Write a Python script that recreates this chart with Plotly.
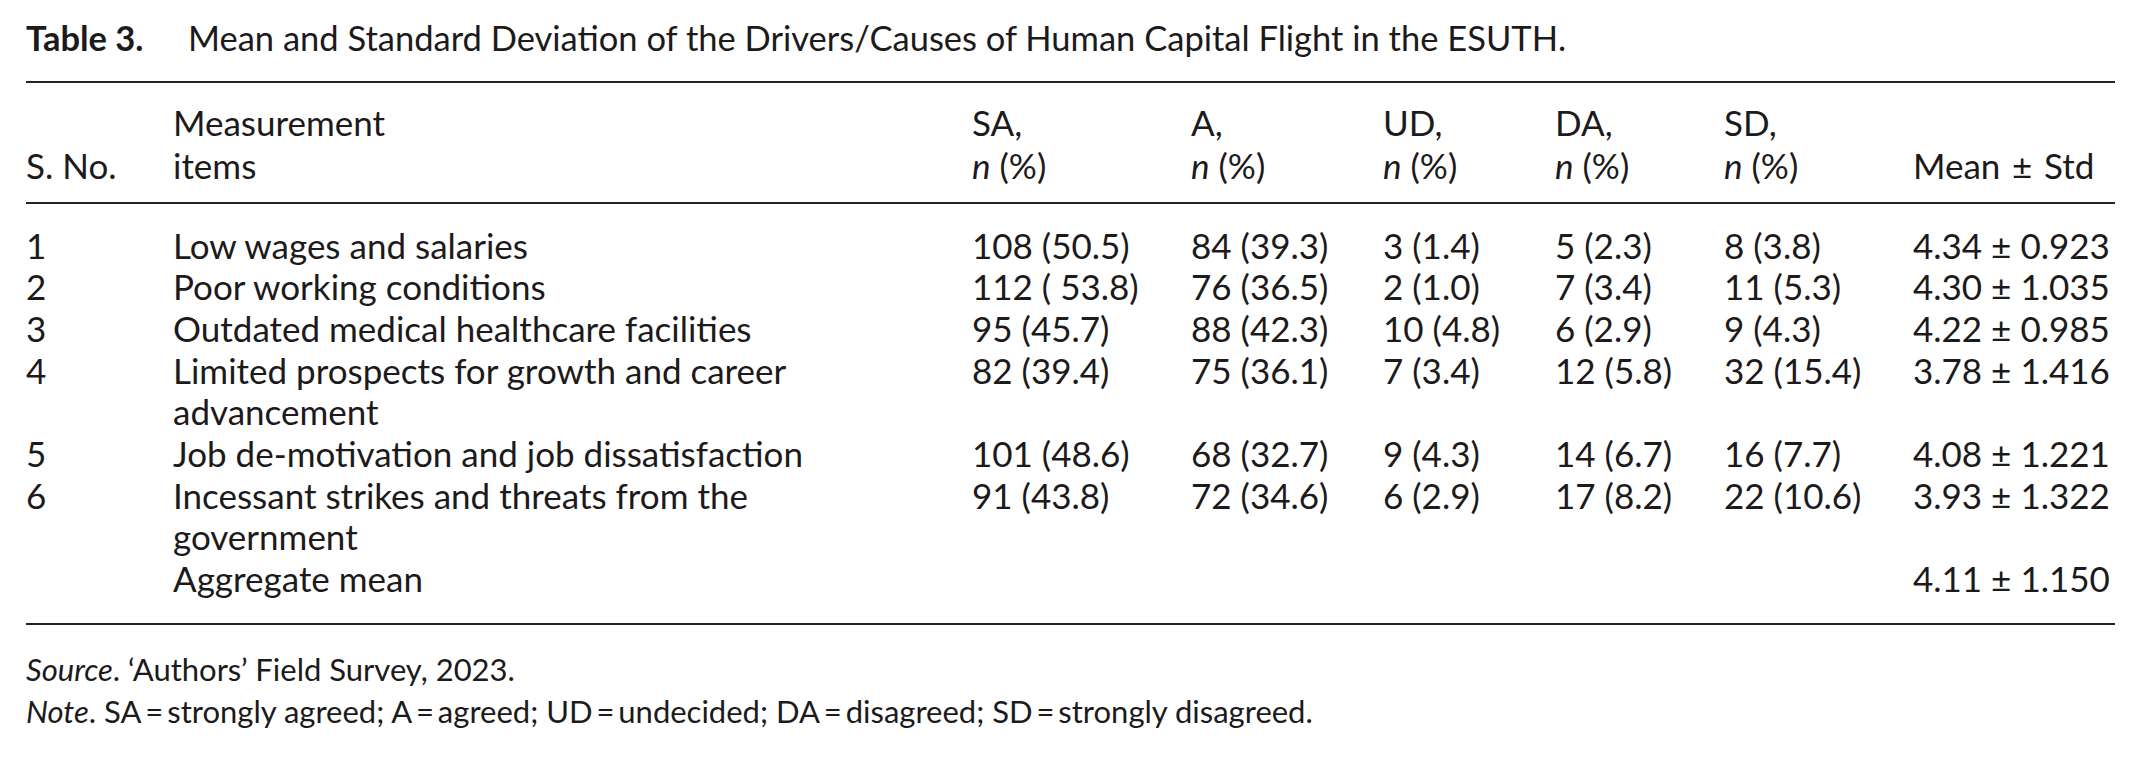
import plotly.graph_objects as go

# ---------------- data ----------------
title_bold = "Table 3."
title_text = "Mean and Standard Deviation of the Drivers/Causes of Human Capital Flight in the ESUTH."

header_line1 = ["", "Measurement", "SA,", "A,", "UD,", "DA,", "SD,", ""]
header_line2 = ["S. No.", "items", "<i>n</i> (%)", "<i>n</i> (%)", "<i>n</i> (%)", "<i>n</i> (%)", "<i>n</i> (%)",
                "Mean\u2004\u00b1\u2004Std"]

sno = ["1", "2", "3", "4", "5", "6", ""]
items = [
    ["Low wages and salaries"],
    ["Poor working conditions"],
    ["Outdated medical healthcare facilities"],
    ["Limited prospects for growth and career", "advancement"],
    ["Job de-motivation and job dissatisfaction"],
    ["Incessant strikes and threats from the", "government"],
    ["Aggregate mean"],
]
sa = ["108 (50.5)", "112 ( 53.8)", "95 (45.7)", "82 (39.4)", "101 (48.6)", "91 (43.8)", ""]
a = ["84 (39.3)", "76 (36.5)", "88 (42.3)", "75 (36.1)", "68 (32.7)", "72 (34.6)", ""]
ud = ["3 (1.4)", "2 (1.0)", "10 (4.8)", "7 (3.4)", "9 (4.3)", "6 (2.9)", ""]
da = ["5 (2.3)", "7 (3.4)", "6 (2.9)", "12 (5.8)", "14 (6.7)", "17 (8.2)", ""]
sd = ["8 (3.8)", "11 (5.3)", "9 (4.3)", "32 (15.4)", "16 (7.7)", "22 (10.6)", ""]
mean = ["4.34", "4.30", "4.22", "3.78", "4.08", "3.93", "4.11"]
std = ["0.923", "1.035", "0.985", "1.416", "1.221", "1.322", "1.150"]

source_note = "<i>Source</i>. \u2018Authors\u2019 Field Survey, 2023."
abbrev_note = "<i>Note</i>. SA\u2009=\u2009strongly agreed; A\u2009=\u2009agreed; UD\u2009=\u2009undecided; DA\u2009=\u2009disagreed; SD\u2009=\u2009strongly disagreed."

# ---------------- layout ----------------
W, H = 2142, 757
OFF = 8  # page body margin
FONT = "Lato, sans-serif"
INK = "#1c1a1b"
FS = 35
FS_TITLE = 34.5
FS_NOTE = 31
col_x = [24, 171, 970, 1189, 1381, 1553, 1722, 1911]
title_text_x = 186
rule_x0, rule_x1 = 26, 2115
y_title = 37
y_rules = [82, 203, 624]
y_head = [122, 165]
y_first = 244.5
line_h = 41.7
y_notes = [669, 711]

fig = go.Figure()
fig.add_trace(go.Scatter(x=[OFF, W], y=[OFF, H], mode="markers",
                         marker=dict(opacity=0), hoverinfo="skip", showlegend=False))

ann = []

def txt(x, y, s, size=FS):
    ann.append(dict(x=x, y=y, xref="x", yref="y", text=s, showarrow=False,
                    xanchor="left", yanchor="middle", align="left",
                    font=dict(family=FONT, size=size, color=INK)))

txt(col_x[0], y_title, "<b>" + title_bold + "</b>", FS_TITLE)
txt(title_text_x, y_title, title_text, FS_TITLE)

for i, s in enumerate(header_line1):
    if s:
        txt(col_x[i], y_head[0], s)
for i, s in enumerate(header_line2):
    if s:
        txt(col_x[i], y_head[1], s)

line = 0
for r in range(len(items)):
    y = y_first + line * line_h
    cells = [sno[r], None, sa[r], a[r], ud[r], da[r], sd[r],
             mean[r] + " \u00b1 " + std[r]]
    for c, s in enumerate(cells):
        if c == 1 or not s:
            continue
        txt(col_x[c], y, s)
    for k, part in enumerate(items[r]):
        txt(col_x[1], y + k * line_h, part)
    line += len(items[r])

txt(col_x[0], y_notes[0], source_note, FS_NOTE)
txt(col_x[0], y_notes[1], abbrev_note, FS_NOTE)

shapes = [dict(type="line", xref="x", yref="y", x0=rule_x0, x1=rule_x1, y0=yy, y1=yy,
               line=dict(color="#262324", width=2.2)) for yy in y_rules]

fig.update_layout(
    width=W, height=H, margin=dict(l=0, r=0, t=0, b=0),
    paper_bgcolor="white", plot_bgcolor="white",
    xaxis=dict(range=[OFF, W + OFF], visible=False, fixedrange=True),
    yaxis=dict(range=[H + OFF, OFF], visible=False, fixedrange=True),
    annotations=ann, shapes=shapes, showlegend=False,
)
fig.write_html("out.html", config={"displayModeBar": False})
